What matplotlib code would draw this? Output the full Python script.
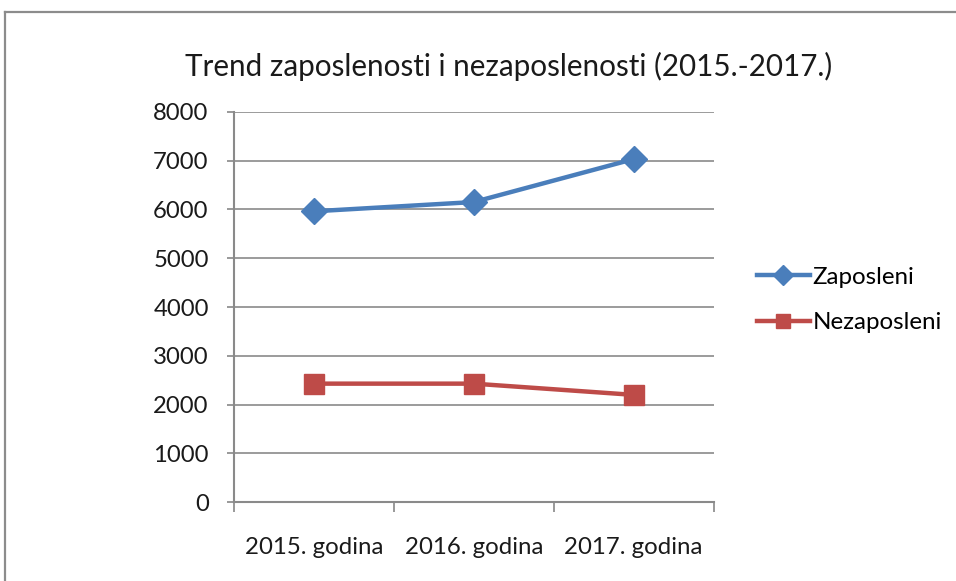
import matplotlib
matplotlib.use("Agg")
import matplotlib.pyplot as plt
from matplotlib.lines import Line2D

# Podaci
godine = ['2015. godina', '2016. godina', '2017. godina']
zaposleni = [5960, 6150, 7030]
nezaposleni = [2430, 2430, 2200]
y_ticks = [0, 1000, 2000, 3000, 4000, 5000, 6000, 7000, 8000]

plt.rcParams['font.family'] = ['Lato', 'DejaVu Sans']

fig = plt.figure(figsize=(9.56, 5.81), dpi=100)
ax = fig.add_axes([0.2445, 0.1355, 0.502, 0.6722])

x = list(range(len(godine)))
ax.plot(x, zaposleni, color='#4A7EBB', lw=3.2, marker='D', markersize=13,
        label='Zaposleni')
ax.plot(x, nezaposleni, color='#BE4B48', lw=3.2, marker='s', markersize=14,
        label='Nezaposleni')

ax.set_xlim(-0.5, len(godine) - 0.5)
ax.set_ylim(0, 8000)
ax.set_yticks(y_ticks)
ax.set_xticks([i + 0.5 for i in range(-1, len(godine))], minor=False)
ax.set_xticklabels([])
ax.set_xticks(x, minor=True)
ax.set_xticklabels(godine, minor=True)
ax.tick_params(axis='x', which='major', length=7, width=1.2, color='#888888', direction='out')
ax.tick_params(axis='x', which='minor', length=0, pad=25, labelsize=17.3, labelcolor='#1a1a1a')
ax.tick_params(axis='y', length=5, width=1.2, color='#888888', pad=13, labelsize=17.2,
               labelcolor='#1a1a1a')

ax.grid(axis='y', color='#8a8a8a', lw=1.2)
ax.set_axisbelow(True)
for s in ['top', 'right']:
    ax.spines[s].set_visible(False)
for s in ['left', 'bottom']:
    ax.spines[s].set_color('#8a8a8a')
    ax.spines[s].set_linewidth(1.5)

# naslov (pomaknut udesno kao u originalu)
fig.text(0.532, 0.885, 'Trend zaposlenosti i nezaposlenosti (2015.-2017.)', fontsize=21.3,
         color='#1a1a1a', ha='center', va='center')

leg = ax.legend(loc='center left', bbox_to_anchor=(1.07, 0.518), frameon=False,
                fontsize=17.4, handlelength=2.2, handletextpad=0.1, labelspacing=1.0,
                borderaxespad=0, markerscale=0.75)

# okvir
fig.add_artist(Line2D([5 / 956, 5 / 956], [0, 1 - 12 / 581], color='#8c8c8c', lw=1.6))
fig.add_artist(Line2D([5 / 956, 1], [1 - 12 / 581, 1 - 12 / 581], color='#8c8c8c', lw=1.6))

fig.savefig('out.png', dpi=100)
